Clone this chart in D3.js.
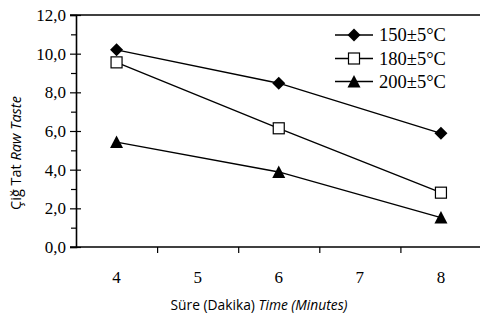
<!DOCTYPE html>
<html><head><meta charset="utf-8">
<script src="https://cdn.jsdelivr.net/npm/d3@7"></script>
<style>body{margin:0;background:#fff}svg{display:block}</style>
</head><body>
<script>
const times = [4, 6, 8];
const series = ["150±5°C", "180±5°C", "200±5°C"];
const values150 = [10.2, 8.47, 5.88];
const values180 = [9.55, 6.14, 2.81];
const values200 = [5.43, 3.88, 1.52];
const yTicks = [0, 2, 4, 6, 8, 10, 12];
const xTicks = [4, 5, 6, 7, 8];
const markers = ["diamond", "square", "triangle"];
const data = [values150, values180, values200];

const W = 480, H = 320;
const svg = d3.select("body").append("svg").attr("width", W).attr("height", H);
const x = d3.scaleLinear().domain([3.5, 8.5]).range([76, 481.5]);
const y = d3.scaleLinear().domain([0, 12]).range([247, 15]);
const serif = "'Liberation Serif','Times New Roman',serif";
const sans = "'Open Sans',sans-serif";

// top border
svg.append("line").attr("x1", 70).attr("x2", W).attr("y1", y(12)).attr("y2", y(12))
  .attr("stroke", "#000").attr("stroke-width", 1.3);

// y axis
const yAxis = svg.append("g").attr("transform", `translate(${x(3.5)},0)`)
  .call(d3.axisLeft(y).tickValues(yTicks).tickSize(6).tickPadding(4)
    .tickFormat(d => d3.format(".1f")(d).replace(".", ",")));
yAxis.select(".domain").attr("stroke-width", 1.6);
yAxis.selectAll(".tick line").attr("x1", 5).attr("x2", -6).attr("stroke-width", 1.2);
yAxis.selectAll("text").attr("font-family", serif).attr("font-size", 17).attr("fill", "#000");
// minor y ticks
const yMinor = svg.append("g").attr("transform", `translate(${x(3.5)},0)`)
  .call(d3.axisLeft(y).tickValues([1, 3, 5, 7, 9, 11]).tickSize(5).tickFormat(""));
yMinor.select(".domain").remove();
yMinor.selectAll("line").attr("stroke-width", 1.2);

// x axis
const xAxis = svg.append("g").attr("transform", `translate(0,${y(0)})`)
  .call(d3.axisBottom(x).tickValues([4.5, 5.5, 6.5, 7.5]).tickSize(6).tickFormat(""));
xAxis.select(".domain").attr("d", `M70,0H${W}`).attr("stroke-width", 1.6);
xAxis.selectAll("line").attr("stroke-width", 1.2);
svg.append("g").selectAll("text").data(xTicks).join("text")
  .attr("x", d => x(d)).attr("y", 283).attr("text-anchor", "middle")
  .attr("font-family", serif).attr("font-size", 17).text(d => d);

// lines
const line = d3.line().x((d, i) => x(times[i])).y(d => y(d));
data.forEach(vals => {
  svg.append("path").attr("d", line(vals)).attr("fill", "none")
    .attr("stroke", "#000").attr("stroke-width", 1.3);
});

function drawMarker(g, type, cx, cy) {
  if (type === "diamond") {
    g.append("path").attr("d", `M${cx},${cy-6.5}L${cx+6.5},${cy}L${cx},${cy+6.5}L${cx-6.5},${cy}Z`).attr("fill", "#000");
  } else if (type === "square") {
    g.append("rect").attr("x", cx-5.5).attr("y", cy-5.5).attr("width", 11).attr("height", 11)
      .attr("fill", "#fff").attr("stroke", "#000").attr("stroke-width", 1.2);
  } else {
    g.append("path").attr("d", `M${cx},${cy-6.5}L${cx+6.5},${cy+6}L${cx-6.5},${cy+6}Z`).attr("fill", "#000");
  }
}
data.forEach((vals, s) => {
  const g = svg.append("g");
  vals.forEach((v, i) => drawMarker(g, markers[s], x(times[i]), y(v)));
});

// legend
const legendY = [35, 58.5, 81.5];
series.forEach((name, i) => {
  const g = svg.append("g");
  g.append("line").attr("x1", 335).attr("x2", 373).attr("y1", legendY[i]).attr("y2", legendY[i])
    .attr("stroke", "#000").attr("stroke-width", 1.3);
  drawMarker(g, markers[i], 354, legendY[i]);
  g.append("text").attr("x", 379).attr("y", legendY[i] + 6).attr("font-family", serif)
    .attr("font-size", 18.5).text(name);
});

// axis titles
const xt = svg.append("text").attr("x", 259).attr("y", 310).attr("text-anchor", "middle")
  .attr("font-family", sans).attr("font-size", 13.8);
xt.append("tspan").text("Süre (Dakika) ");
xt.append("tspan").attr("font-style", "italic").text("Time (Minutes)");

const yt = svg.append("text").attr("transform", "translate(21,153) rotate(-90)")
  .attr("text-anchor", "middle").attr("font-family", sans).attr("font-size", 14.5);
yt.append("tspan").text("Çiğ Tat ");
yt.append("tspan").attr("font-style", "italic").text("Raw Taste");
</script>
</body></html>
